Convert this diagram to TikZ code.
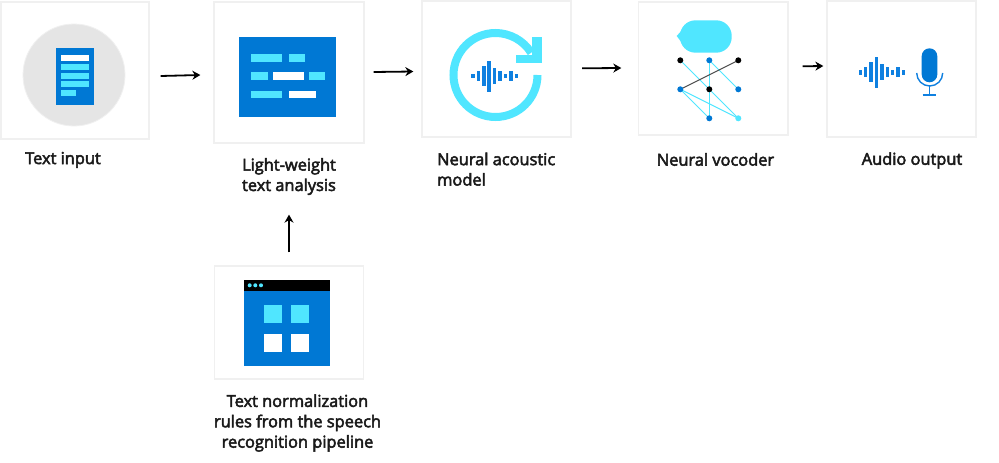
\documentclass[tikz,border=0pt]{standalone}
\usepackage{fontspec}
\setmainfont{Open Sans}[FakeBold=3]
\usetikzlibrary{arrows.meta,calc}
\definecolor{azure}{HTML}{0078D4}
\definecolor{wavec}{HTML}{0F80E0}
\definecolor{cyanc}{HTML}{50E6FF}
\definecolor{edgec}{HTML}{F0F0F0}
\definecolor{txtc}{HTML}{1A1A1A}
\tikzset{
  card/.style={draw=edgec,line width=1.3pt,fill=white,inner sep=0pt,minimum width=#1},
  card/.default=149pt,
  flow/.style={-{Stealth[length=8pt,width=9pt]},line width=1.8pt,black},
  lab/.style={font=\fontsize{16.4}{20.4}\selectfont,text=txtc,inner sep=0pt,align=center},
  dot/.style={circle,inner sep=0pt,minimum size=6pt},
  net/.style={cyanc,line width=1pt},
  bluebar/.style={fill=azure},
  cybar/.style={fill=cyanc},
  whbar/.style={fill=white},
  wbar/.style={fill=wavec}
}
\newcommand{\waveicon}[2]{%
  \foreach \dx/\h in {0/2.4,5.4/5.1,10.8/10,16.1/15.5,21.6/8,26.9/5.1,32.3/2.4,37.8/5.1,43.2/2.4}
    \fill[wbar] ({#1+\dx-1.7},{#2-\h}) rectangle ({#1+\dx+1.7},{#2+\h});%
}
\begin{document}
\begin{tikzpicture}[x=1pt,y=-1pt]
\useasboundingbox (0,0) rectangle (999,463);
\fill[white] (0,0) rectangle (999,463);

% cards
\node[card=148pt,minimum height=137pt] (c1) at (75,70.5) {};
\node[card=150pt,minimum height=141pt] (c2) at (289,72.5) {};
\node[card=149pt,minimum height=136pt] (c3) at (496.5,69) {};
\node[card=149.5pt,minimum height=133pt] (c4) at (713.2,68.5) {};
\node[card=149pt,minimum height=136pt] (c5) at (901.5,69) {};
\node[card=149pt,minimum height=113pt] (c6) at (289,322.5) {};

% icon 1
\fill[fill=black!10,draw=black!6,line width=0.8pt] (74,75) circle[radius=51];
\fill[bluebar] (56,48) rectangle (93.5,104.5);
\fill[whbar] (60.5,55) rectangle (89,61);
\fill[cybar] (60.5,64) rectangle (89,70);
\fill[cybar] (60.5,73) rectangle (89,78.5);
\fill[cybar] (60.5,81) rectangle (89,86.5);
\fill[cybar] (60.5,90) rectangle (76,95.5);

% icon 2
\fill[bluebar] (238.7,36.7) rectangle (335.5,116.5);
\fill[cybar] (251,54) rectangle (282,61.5);
\fill[cybar] (288.5,54) rectangle (305,61.5);
\fill[cybar] (251,72) rectangle (267.5,80);
\fill[whbar] (272.7,72) rectangle (303.5,80);
\fill[cybar] (308.5,72) rectangle (325,80);
\fill[cybar] (251,90.5) rectangle (282,98);
\fill[whbar] (288.5,90.5) rectangle (316,98);

% icon 3
\draw[cyanc,line width=8pt] (537.5,75) arc[start angle=0,end angle=328,radius=42];
\fill[cybar] (532,37) rectangle (541.7,63);
\fill[cybar] (515.5,54.5) rectangle (541.7,63);
\waveicon{473}{76}

% icon 4
\fill[cybar,rounded corners=15.5pt] (680,20.3) rectangle (731.7,52.7);
\fill[cybar] (676.7,36) -- (682,30) -- (682,43) -- cycle;
\coordinate (n00) at (680.3,60.3);
\coordinate (n10) at (709.3,60.3);
\coordinate (n20) at (738.3,60.3);
\coordinate (n01) at (680.3,89.3);
\coordinate (n11) at (709.3,89.3);
\coordinate (n21) at (738.3,89.3);
\coordinate (n12) at (709.3,118.3);
\coordinate (n22) at (738.3,118.3);
\draw[net] (n00) -- (n22);
\draw[net] (n10) -- (n12);
\draw[net] (n10) -- (n21);
\draw[net] (n01) -- (n12);
\draw[net] (n01) -- (n22);
\draw[black!70,line width=1pt] (n01) -- (n20);
\node[dot,fill=black] at (n00) {};
\node[dot,fill=azure] at (n10) {};
\node[dot,fill=black] at (n20) {};
\node[dot,fill=azure] at (n01) {};
\node[dot,fill=black] at (n11) {};
\node[dot,fill=azure] at (n21) {};
\node[dot,fill=azure] at (n12) {};
\node[dot,fill=cyanc] at (n22) {};

% icon 5
\waveicon{860.3}{72.3}
\fill[bluebar,rounded corners=7.8pt] (921.7,48.3) rectangle (937.3,82.3);
\draw[wavec,line width=1.4pt] (916.7,73) arc[start angle=180,end angle=0,radius=13];
\draw[wavec,line width=1.4pt] (929.3,86) -- (929.3,95);
\draw[wavec,line width=1.4pt] (922.7,95) -- (936,95);

% icon 6
\fill[bluebar] (244,279.5) rectangle (329.5,366);
\fill[black] (244,279.5) rectangle (329.5,291);
\foreach \px in {249.7,255.3,261} \fill[cybar] (\px,285.3) circle[radius=2];
\fill[cybar] (264,305) rectangle (282,323);
\fill[cybar] (290.5,305) rectangle (309,323);
\fill[whbar] (264,334) rectangle (282,351.5);
\fill[whbar] (290.5,334) rectangle (309,351.5);

% labels
\node[lab] (l1) at (63,160) {Text input};
\node[lab] (l2) at (289,176.5) {Light-weight\\text analysis};
\node[lab,align=left,anchor=west] (l3) at (437,169.2) {Neural acoustic\\model};
\node[lab] (l4) at (715.5,159.5) {Neural vocoder};
\node[lab] (l5) at (912,160.5) {Audio output};
\node[lab] (l6) at (297.5,423) {Text normalization\\rules from the speech\\recognition pipeline};

% connectors
\draw[flow] ([shift={(11,5.5)}]c1.east) -- ([shift={(-13,2.5)}]c2.west);
\draw[flow] ([shift={(9,-0.5)}]c2.east) -- ([shift={(-8,2.5)}]c3.west);
\draw[flow] ([shift={(10.5,-0.7)}]c3.east) -- ([shift={(-16.5,-0.5)}]c4.west);
\draw[flow] ([shift={(14,-2.2)}]c4.east) -- ([shift={(-3,-3)}]c5.west);
\draw[flow] ([shift={(0,-13)}]c6.north) -- ([shift={(0,71)}]c2.south);
\end{tikzpicture}
\end{document}
